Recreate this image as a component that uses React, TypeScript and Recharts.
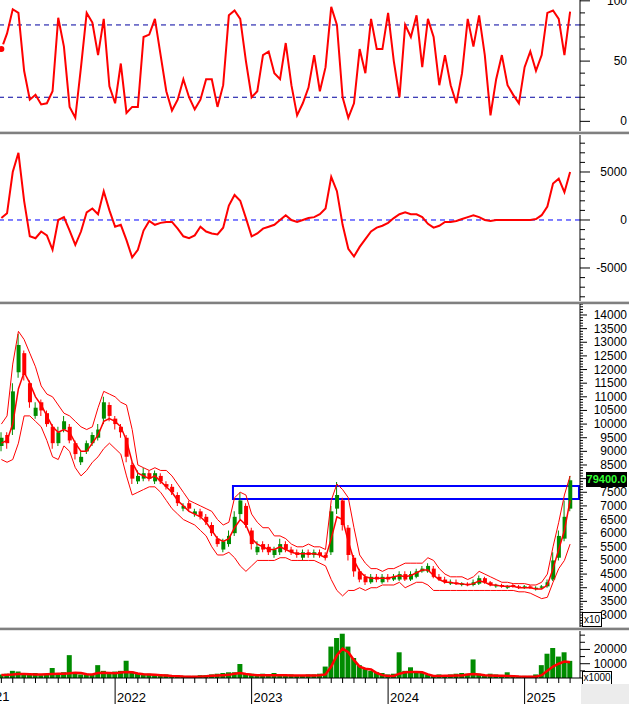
import React from 'react';
import { ComposedChart, Line, Bar, Cell, XAxis, YAxis, ReferenceLine, ReferenceArea } from 'recharts';

// one point every half month, starting March 2021 (months counted from Jan 2021)
const stochK = [60, 73, 93, 90, 42, 18, 22, 14, 15, 25,
  86, 62, 12, 3, 45, 90, 82, 55, 85, 29,
  15, 48, 7, 12, 12, 70, 72, 85, 55, 25,
  9, 18, 35, 20, 10, 18, 35, 35, 12, 30,
  88, 92, 85, 50, 20, 25, 55, 58, 40, 35,
  65, 30, 5, 15, 28, 55, 25, 45, 95, 80,
  20, 3, 15, 60, 40, 85, 60, 60, 90, 50,
  20, 80, 70, 88, 45, 85, 70, 30, 55, 30,
  15, 40, 85, 62, 88, 55, 5, 35, 55, 30,
  22, 15, 45, 58, 42, 55, 90, 92, 85, 55,
  91];

const macd = [200, 700, 5000, 7000, 2000, -1700, -1900, -1200, -1600, -3100,
  0, 300, -1100, -2600, -1200, 800, 1200, 600, 3000, 1000,
  -700, -500, -2100, -3900, -3100, -1100, -100, -500, -300, -200,
  -200, -900, -1700, -1900, -1600, -700, -1200, -1400, -1500, -800,
  1500, 2600, 2000, 200, -1700, -1400, -900, -700, -500, 0,
  500, 0, -200, 0, 200, 300, 600, 1200, 4500, 3000,
  -500, -3000, -3800, -2800, -2000, -1200, -800, -600, -300, 200,
  600, 800, 600, 600, 300, -400, -800, -600, -200, -200,
  -100, 100, 300, 500, 300, 0, -100, 0, 0, 0,
  0, 0, 0, 0, 100, 500, 1400, 3800, 4300, 2900,
  5000];

const open = [9200, 9600, 9800, 11900, 12600, 11500, 10300, 10800, 10400, 9900,
  9300, 9800, 9900, 9300, 8600, 9000, 9300, 9500, 10200, 10700,
  10200, 9900, 9500, 8500, 7900, 8000, 8200, 7900, 8100, 7800,
  7700, 7400, 6900, 7100, 6700, 6800, 6600, 6300, 5800, 5400,
  5600, 6000, 6700, 7000, 6100, 5300, 5600, 5500, 5200, 5300,
  5600, 5400, 5300, 5100, 5300, 5200, 5300, 5200, 5300, 6900,
  7200, 6200, 5100, 4600, 4400, 4200, 4400, 4200, 4400, 4300,
  4300, 4500, 4300, 4400, 4600, 4600, 4700, 4400, 4300, 4150,
  4200, 4100, 4150, 4100, 4150, 4350, 4200, 4050, 4100, 4000,
  4100, 4050, 4000, 4050, 3950, 4000, 4050, 4300, 5100, 5800,
  6900];

const close = [9500, 9300, 11200, 12900, 11800, 10800, 10600, 10500, 10000, 9300,
  9700, 10100, 9400, 8900, 8800, 9300, 9600, 9800, 10800, 10300,
  10000, 9700, 8800, 8000, 8100, 8200, 8000, 8200, 7900, 7700,
  7500, 7100, 7000, 6900, 6800, 6600, 6400, 6000, 5600, 5700,
  5900, 6600, 7200, 6300, 5600, 5500, 5400, 5300, 5400, 5600,
  5400, 5300, 5200, 5300, 5200, 5300, 5200, 5100, 6800, 7400,
  6300, 5200, 4600, 4300, 4200, 4400, 4300, 4400, 4300, 4400,
  4500, 4300, 4500, 4600, 4700, 4800, 4400, 4300, 4200, 4200,
  4150, 4150, 4100, 4200, 4350, 4200, 4100, 4100, 4050, 4050,
  4050, 4000, 4050, 4000, 4000, 4050, 4200, 5000, 5900, 6600,
  7940];

const high = [9700, 9700, 11500, 13300, 12700, 11600, 10800, 10900, 10500, 10000,
  9900, 10300, 10000, 9400, 9000, 9400, 9700, 10000, 11000, 10800,
  10300, 10000, 9600, 8600, 8300, 8400, 8300, 8300, 8200, 7900,
  7800, 7500, 7100, 7200, 6900, 6900, 6700, 6400, 5900, 5800,
  6100, 6800, 7500, 7100, 6200, 5700, 5700, 5600, 5500, 5800,
  5700, 5500, 5400, 5400, 5400, 5400, 5400, 5300, 7000, 7880,
  7300, 6300, 5200, 4700, 4500, 4500, 4500, 4500, 4500, 4500,
  4600, 4600, 4600, 4700, 4800, 4900, 4800, 4500, 4400, 4300,
  4300, 4200, 4200, 4300, 4450, 4400, 4250, 4150, 4150, 4100,
  4150, 4100, 4100, 4100, 4050, 4100, 4300, 5300, 6100, 7200,
  8100];

const low = [9000, 9100, 9600, 11700, 11600, 10600, 10200, 10300, 9900, 9100,
  9200, 9700, 9300, 8700, 8500, 8900, 9200, 9400, 10000, 10100,
  9800, 9500, 8600, 7800, 7800, 7900, 7900, 7800, 7800, 7600,
  7400, 7000, 6800, 6800, 6600, 6500, 6300, 5900, 5500, 5300,
  5500, 5900, 6500, 6200, 5400, 5200, 5300, 5200, 5100, 5200,
  5300, 5200, 5100, 5000, 5100, 5100, 5100, 5000, 5200, 6700,
  6100, 5000, 4400, 4200, 4100, 4150, 4200, 4150, 4200, 4250,
  4250, 4250, 4250, 4350, 4550, 4550, 4350, 4250, 4150, 4100,
  4100, 4050, 4050, 4050, 4100, 4150, 4050, 4000, 4000, 3950,
  4000, 3950, 3950, 3950, 3900, 3950, 4000, 4250, 5000, 5700,
  6800];

const upper = [10000, 10300, 12200, 13400, 13100, 12600, 12100, 11400, 11100, 11000,
  10700, 10400, 10300, 10100, 9900, 9800, 9900, 10600, 11200, 11100,
  11000, 10800, 10700, 9800, 8500, 8400, 8300, 8400, 8300, 8300,
  8100, 7800, 7500, 7200, 7100, 7000, 6900, 6800, 6500, 6300,
  6400, 7300, 7500, 7400, 6700, 6400, 6200, 6200, 5900, 5900,
  5800, 5600, 5500, 5500, 5600, 5500, 5500, 5400, 7200, 7800,
  7600, 7300, 6200, 5200, 4900, 4700, 4700, 4600, 4700, 4700,
  4800, 4900, 4900, 4900, 4900, 5100, 5000, 4700, 4500, 4400,
  4400, 4400, 4300, 4400, 4600, 4500, 4400, 4300, 4200, 4200,
  4150, 4150, 4150, 4100, 4100, 4200, 4500, 5500, 6400, 7400,
  8100];

const middle = [9300, 9400, 10000, 11300, 11900, 11500, 11000, 10700, 10300, 9900,
  9700, 9800, 9700, 9300, 9000, 9000, 9300, 9600, 10100, 10200,
  10100, 9900, 9400, 8600, 8200, 8100, 8000, 8100, 7900, 7700,
  7500, 7200, 7000, 6800, 6700, 6600, 6400, 6100, 5800, 5700,
  5800, 6200, 6500, 6300, 5800, 5600, 5500, 5400, 5400, 5500,
  5400, 5300, 5250, 5250, 5250, 5250, 5200, 5100, 5800, 6600,
  6500, 5700, 5000, 4600, 4400, 4350, 4350, 4350, 4350, 4400,
  4450, 4400, 4450, 4550, 4650, 4650, 4450, 4300, 4200, 4200,
  4150, 4150, 4100, 4150, 4250, 4200, 4100, 4100, 4050, 4050,
  4050, 4000, 4000, 4000, 3950, 3950, 4100, 4700, 5400, 6100,
  7200];

const lower = [8700, 8600, 8700, 9300, 10300, 10300, 10100, 9900, 9400, 8800,
  8700, 9200, 9000, 8400, 8100, 8300, 8600, 8800, 9100, 9300,
  9100, 8900, 8100, 7400, 7500, 7600, 7700, 7700, 7500, 7200,
  6900, 6700, 6500, 6400, 6300, 6100, 5900, 5500, 5200, 5200,
  5300, 5100, 4800, 4600, 4800, 5000, 5000, 5000, 5000, 5100,
  5100, 5000, 5000, 5000, 5000, 5000, 4900, 4800, 4300, 3900,
  3700, 3900, 3900, 4000, 3900, 4000, 4000, 4100, 4100, 4100,
  4200, 4000, 4100, 4200, 4200, 4100, 3900, 3900, 3900, 3900,
  3900, 3900, 3900, 3900, 3900, 3900, 3900, 3900, 3900, 3900,
  3900, 3850, 3850, 3800, 3700, 3600, 3650, 4200, 4700, 5000,
  5600];

const volume = [2500, 3000, 5000, 4500, 3000, 2500, 3500, 2000, 2500, 7000,
  3000, 4000, 16000, 3500, 2500, 3000, 2500, 9000, 5000, 4000,
  4500, 5000, 12000, 4500, 3500, 3000, 3000, 2500, 2000, 2500,
  1500, 2000, 1500, 1500, 1500, 2000, 2000, 2500, 3000, 3500,
  4000, 4000, 9800, 3500, 3000, 2500, 3000, 2500, 3500, 2500,
  2000, 2500, 2000, 2000, 2500, 2500, 3000, 8000, 22000, 28000,
  31000, 22000, 14000, 9000, 7000, 5000, 4000, 3500, 2500, 3000,
  18000, 5000, 7500, 4500, 3500, 2500, 2000, 2500, 2000, 2500,
  3000, 3500, 3000, 13000, 3000, 2000, 3000, 2500, 2000, 4000,
  2000, 1500, 1500, 1500, 2500, 9000, 17000, 21000, 15000, 18000,
  12000];

const volumeMA = [2100, 2200, 2400, 2800, 2800, 2600, 2400, 2500, 2700, 2800,
  2900, 3000, 3300, 3700, 3500, 2600, 2500, 3500, 3700, 3500,
  3300, 3800, 4200, 4000, 3200, 2700, 2500, 2300, 2000, 1700,
  1400, 1200, 1000, 900, 900, 1000, 1200, 1500, 1800, 2000,
  2200, 3000, 3500, 2800, 2200, 2000, 1900, 1900, 2000, 2000,
  1900, 1800, 1700, 1700, 1800, 1800, 1900, 2500, 8000, 16000,
  20500, 18000, 12500, 8000, 6500, 6000, 3500, 2000, 1400, 1400,
  3000, 4000, 4200, 4200, 4000, 2500, 1400, 1400, 1500, 1600,
  1700, 1800, 2500, 2800, 2500, 2000, 1800, 1600, 1500, 1400,
  1200, 1000, 900, 900, 900, 2000, 5000, 8000, 10000, 11500,
  11000];

const stochLabels = [0, 50, 100];
const macdLabels = [-5000, 0, 5000];
// 8000 sits under the last-price marker, so it is not labelled
const priceLabels = [3000, 3500, 4000, 4500, 5000, 5500, 6000, 6500, 7000, 7500, 8500,
  9000, 9500, 10000, 10500, 11000, 11500, 12000, 12500, 13000, 13500, 14000];
const priceMajor = [...priceLabels, 8000];
const volumeLabels = [10000, 20000];
const yearLabels = ['2022', '2023', '2024', '2025'];

// resistance box drawn over the price panel
const boxFrom = 22.36;
const boxTo = 52.78;
const boxLow = 7250;
const boxHigh = 7730;
const lastPrice = '79400.0';

const months = close.map((_, i) => 2 + i * 0.5);
const rows = months.map((t, i) => ({
  t,
  k: stochK[i],
  macd: macd[i],
  body: [Math.min(open[i], close[i]), Math.max(open[i], close[i])],
  wick: [low[i], high[i]],
  up: close[i] >= open[i],
  upper: upper[i],
  middle: middle[i],
  lower: lower[i],
  vol: volume[i],
  volMA: volumeMA[i],
}));

const W = 629;
const PLOT_W = 580;
const AXIS_W = W - PLOT_W;
const X_DOMAIN: [number, number] = [1.88, 52.87];
const FONT = '"Liberation Sans", Arial, sans-serif';
const RED = '#ff0000';
const GREEN = '#008c00';

const steps = (from: number, to: number, step: number) => {
  const out: number[] = [];
  for (let v = from; v <= to; v += step) out.push(v);
  return out;
};

const yTick = (labels: number[], majors: number[], longLen: number, shortLen: number) => (props: any) => {
  const { y, payload } = props;
  const major = majors.includes(payload.value);
  const labelled = labels.includes(payload.value);
  return (
    <g>
      <line x1={PLOT_W} x2={PLOT_W + (major ? longLen : shortLen)} y1={y} y2={y} stroke="#000" />
      {labelled && (
        <text x={627} y={y} dy={4} textAnchor="end" fontSize={12} fontFamily={FONT} fill="#000">
          {payload.value}
        </text>
      )}
    </g>
  );
};

const monthTicks = steps(2, 52, 1);

const xTick = (props: any) => {
  const { x, payload } = props;
  const m = payload.value;
  const isYear = m % 12 === 0;
  return (
    <g>
      <line x1={x} x2={x} y1={47} y2={isYear ? 73 : 52} stroke="#000" />
      {isYear && (
        <text x={x + 2} y={71} fontSize={13} fontFamily={FONT} fill="#000">
          {yearLabels[m / 12 - 1]}
        </text>
      )}
    </g>
  );
};

const Separator = ({ top }: { top: number }) => (
  <div style={{ position: 'absolute', left: 0, top, width: W, height: 4 }}>
    <div style={{ height: 1, background: '#d0d0d0' }} />
    <div style={{ height: 2, background: '#808080' }} />
    <div style={{ height: 1, background: '#e4e4e4' }} />
  </div>
);

const panel = (top: number): React.CSSProperties => ({ position: 'absolute', left: 0, top });

export default function App() {
  return (
    <div
      style={{
        position: 'absolute', left: 0, top: 0, width: W, height: 704,
        background: '#fff', overflow: 'hidden', fontFamily: FONT,
      }}
    >
      {/* stochastic */}
      <div style={panel(0)}>
        <ComposedChart width={W} height={131} data={rows} margin={{ top: 0, right: 0, bottom: 0, left: 0 }}>
          <XAxis dataKey="t" type="number" domain={X_DOMAIN} hide allowDataOverflow />
          <YAxis
            orientation="right" width={AXIS_W} domain={[-8, 100.7]} allowDataOverflow
            ticks={steps(0, 100, 10)} interval={0} tickLine={false}
            axisLine={{ stroke: '#000' }} tick={yTick(stochLabels, stochLabels, 10, 5)}
          />
          <ReferenceLine y={80} stroke="#0000a0" strokeDasharray="5 4" />
          <ReferenceLine y={20} stroke="#0000a0" strokeDasharray="5 4" />
          <Line dataKey="k" stroke={RED} strokeWidth={2} dot={false} isAnimationActive={false} />
        </ComposedChart>
      </div>
      <Separator top={131} />

      {/* MACD */}
      <div style={panel(135)}>
        <ComposedChart width={W} height={166} data={rows} margin={{ top: 0, right: 0, bottom: 0, left: 0 }}>
          <XAxis dataKey="t" type="number" domain={X_DOMAIN} hide allowDataOverflow />
          <YAxis
            orientation="right" width={AXIS_W} domain={[-8438, 8854]} allowDataOverflow
            ticks={steps(-8000, 8000, 1000)} interval={0} tickLine={false}
            axisLine={{ stroke: '#000' }} tick={yTick(macdLabels, macdLabels, 10, 5)}
          />
          <ReferenceLine y={0} stroke="#0000ff" strokeDasharray="5 4" />
          <Line dataKey="macd" stroke={RED} strokeWidth={2} dot={false} isAnimationActive={false} />
        </ComposedChart>
      </div>
      <Separator top={301} />

      {/* price */}
      <div style={panel(304)}>
        <ComposedChart width={W} height={323} data={rows} margin={{ top: 0, right: 0, bottom: 0, left: 0 }}>
          <XAxis dataKey="t" type="number" domain={X_DOMAIN} hide allowDataOverflow />
          <XAxis xAxisId="wick" dataKey="t" type="number" domain={X_DOMAIN} hide allowDataOverflow />
          <YAxis
            orientation="right" width={AXIS_W} domain={[2560, 14403]} allowDataOverflow
            ticks={steps(2600, 14400, 100)} interval={0} tickLine={false}
            axisLine={{ stroke: '#000' }} tick={yTick(priceLabels, priceMajor, 7, 3)}
          />
          <Line dataKey="upper" stroke={RED} strokeWidth={1} dot={false} isAnimationActive={false} />
          <Line dataKey="lower" stroke={RED} strokeWidth={1} dot={false} isAnimationActive={false} />
          <Line dataKey="middle" stroke={RED} strokeWidth={1.5} dot={false} isAnimationActive={false} />
          <Bar xAxisId="wick" dataKey="wick" barSize={1} isAnimationActive={false}>
            {rows.map((r, i) => (
              <Cell key={i} fill={r.up ? GREEN : RED} />
            ))}
          </Bar>
          <Bar dataKey="body" barSize={4} isAnimationActive={false}>
            {rows.map((r, i) => (
              <Cell key={i} fill={r.up ? GREEN : RED} />
            ))}
          </Bar>
          <ReferenceArea
            x1={boxFrom} x2={boxTo} y1={boxLow} y2={boxHigh}
            fill="none" fillOpacity={0} stroke="#0000ff" strokeWidth={2} ifOverflow="visible"
          />
        </ComposedChart>
      </div>
      <Separator top={627} />

      {/* volume */}
      <div style={panel(631)}>
        <ComposedChart width={W} height={73} data={rows} margin={{ top: 0, right: 0, bottom: 0, left: 0 }}>
          <XAxis
            dataKey="t" type="number" domain={X_DOMAIN} allowDataOverflow height={26}
            ticks={monthTicks} interval={0} tickLine={false} axisLine={{ stroke: '#000' }} tick={xTick}
          />
          <YAxis
            orientation="right" width={AXIS_W} domain={[0, 32900]} allowDataOverflow
            ticks={steps(0, 30000, 5000)} interval={0} tickLine={false}
            axisLine={{ stroke: '#000' }} tick={yTick(volumeLabels, volumeLabels, 10, 5)}
          />
          <Bar dataKey="vol" fill={GREEN} barSize={5} isAnimationActive={false} />
          <Line dataKey="volMA" stroke={RED} strokeWidth={2.5} dot={false} isAnimationActive={false} />
        </ComposedChart>
      </div>

      {/* partial first year label at the left edge */}
      <div style={{ position: 'absolute', left: -19.5, top: 689, fontSize: 13, color: '#000' }}>2021</div>

      {/* last price marker */}
      <div
        style={{
          position: 'absolute', left: 586, top: 472, width: 41, height: 15, background: '#000',
          color: '#33ff33', fontSize: 11, fontWeight: 'bold', lineHeight: '15px', textAlign: 'center',
        }}
      >
        {lastPrice}
      </div>

      {/* unit boxes */}
      <div
        style={{
          position: 'absolute', left: 582, top: 612, width: 18, height: 13, background: '#fff',
          border: '1px solid #000', fontSize: 10, lineHeight: '13px', textAlign: 'center',
        }}
      >
        x10
      </div>
      <div
        style={{
          position: 'absolute', left: 582, top: 671, width: 28, height: 12, background: '#fff',
          border: '1px solid #000', fontSize: 10, lineHeight: '12px', textAlign: 'center',
        }}
      >
        x1000
      </div>
      <div style={{ position: 'absolute', left: 581, top: 684, width: 48, height: 20, background: '#ececec' }} />
    </div>
  );
}
